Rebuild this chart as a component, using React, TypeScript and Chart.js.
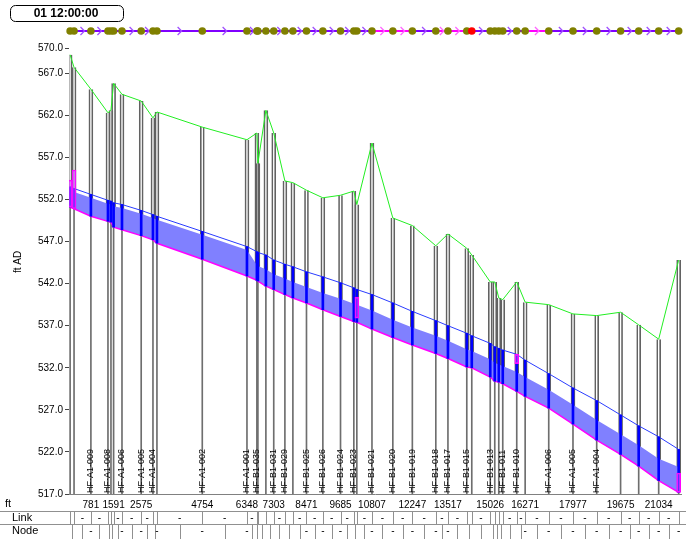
import React, { useEffect, useRef } from "react";
import { Chart, registerables } from "chart.js";
Chart.register(...registerables);

const FONT = "'Liberation Sans', Arial, sans-serif";

const timeLabel = "01 12:00:00";
const xTickValues = [781, 1591, 2575, 4754, 6348, 7303, 8471, 9685, 10807, 12247, 13517, 15026, 16271, 17977, 19675, 21034];
const yTickValues = [517, 522, 527, 532, 537, 542, 547, 552, 557, 562, 567, 570];
const X_MAX = 21830;
const Y_MIN = 517;
const Y_MAX = 570;

const nodeDist = [40, 180, 781, 1390, 1497, 1591, 1890, 2575, 2995, 3137, 4754, 6348, 6702, 6738, 7023, 7303, 7701, 7986, 8471, 9055, 9685, 10160, 10267, 10807, 11551, 12247, 13084, 13517, 14189, 14367, 15026, 15187, 15330, 15472, 15971, 16271, 17112, 17977, 18823, 19675, 20321, 21034, 21747];
const nodeGround = [569.2, 567.7, 565.1, 562.3, 562.6, 565.8, 564.5, 563.7, 561.7, 562.4, 560.6, 559.1, 559.9, 556.3, 562.6, 559.9, 554.2, 554.0, 553.1, 552.2, 552.5, 553.0, 551.4, 558.7, 549.8, 548.9, 546.5, 547.9, 546.2, 545.4, 542.2, 542.2, 540.3, 540.1, 542.2, 539.8, 539.5, 538.4, 538.2, 538.6, 537.1, 535.4, 544.8];
const nodeCrown = [553.5, 553.3, 552.6, 551.9, 551.8, 551.6, 551.4, 550.7, 550.2, 550.0, 548.2, 546.4, 545.8, 545.7, 545.4, 544.8, 544.3, 544.0, 543.4, 542.8, 542.1, 541.5, 541.3, 540.7, 539.7, 538.7, 537.6, 537.0, 536.1, 535.8, 534.9, 534.5, 534.3, 534.1, 533.6, 532.9, 531.3, 529.6, 528.1, 526.4, 525.1, 523.8, 522.3];
const nodeInvert = [551.1, 550.9, 550.0, 549.4, 549.3, 548.7, 548.4, 547.7, 547.2, 546.8, 544.9, 542.9, 542.4, 542.3, 541.7, 541.3, 540.7, 540.3, 539.7, 538.9, 538.1, 537.5, 537.4, 536.6, 535.6, 534.7, 533.7, 533.1, 532.1, 532.0, 530.9, 530.4, 530.3, 530.1, 529.2, 528.6, 527.2, 525.3, 523.4, 521.7, 520.3, 518.6, 517.2];
const nodeWater = [553.1, 552.9, 552.2, 551.5, 551.4, 551.2, 551.0, 550.3, 549.8, 549.6, 547.8, 546.0, 544.2, 544.1, 543.7, 543.1, 542.6, 542.2, 541.6, 540.9, 540.2, 539.6, 539.5, 538.8, 537.7, 536.8, 535.8, 535.2, 534.2, 534.0, 533.0, 532.6, 532.4, 532.2, 531.5, 530.9, 529.4, 527.6, 525.8, 524.1, 522.8, 521.2, 520.2];
const nodeNames = ["", "", "HF-A1-009", "HF-A1-008", "", "", "HF-A1-006", "HF-A1-005", "HF-A1-004", "", "HF-A1-002", "HF-A1-001", "HF-B1-035", "", "", "HF-B1-031", "HF-B1-029", "", "HF-B1-025", "HF-B1-026", "HF-B1-024", "HF-B1-023", "", "HF-B1-021", "HF-B1-020", "HF-B1-019", "HF-B1-018", "HF-B1-017", "HF-B1-015", "", "HF-B1-013", "", "", "HF-B1-011", "HF-B1-010", "", "HF-A1-006", "HF-A1-005", "HF-A1-004", "", "", "", ""];
// link colour code on the top strip: p = purple, m = magenta
const linkColor = ["p", "p", "p", "p", "p", "p", "p", "p", "p", "p", "p", "p", "p", "p", "p", "p", "p", "p", "p", "p", "p", "p", "p", "m", "m", "p", "m", "m", "p", "p", "p", "p", "p", "p", "p", "m", "p", "p", "p", "p", "p", "p"];
const redNode = 29;
const floodNode = [0, 1, 22, 34, 42];
const floodLo = [551.1, 550.9, 537.9, 532.5, 517.2];
const floodHi = [554.3, 555.5, 540.4, 533.6, 519.5];

const extras = {
  id: "profileExtras",
  afterDatasetsDraw(chart: any) {
    const ctx = chart.ctx;
    const xs = chart.scales.x;
    ctx.save();
    ctx.fillStyle = "#000";
    ctx.font = `9px ${FONT}`;
    ctx.textAlign = "left";
    ctx.textBaseline = "middle";
    nodeNames.forEach((nm, i) => {
      if (!nm) return;
      const x = xs.getPixelForValue(nodeDist[i]);
      ctx.save();
      ctx.translate(x, 493);
      ctx.rotate(-Math.PI / 2);
      ctx.fillText(nm, 0, 0);
      ctx.restore();
    });
    ctx.restore();
  },
  afterDraw(chart: any) {
    const ctx = chart.ctx;
    const xs = chart.scales.x;
    const px = nodeDist.map((d) => xs.getPixelForValue(d));
    const n = px.length;
    const W = chart.width;
    const H = chart.height;
    ctx.save();
    const line = (x1: number, y1: number, x2: number, y2: number) => {
      ctx.beginPath();
      ctx.moveTo(x1, y1);
      ctx.lineTo(x2, y2);
      ctx.stroke();
    };
    // table
    ctx.strokeStyle = "#909090";
    ctx.lineWidth = 1;
    line(0, 511.5, W, 511.5);
    line(0, 524.5, W, 524.5);
    px.forEach((x) => line(Math.round(x) + 0.5, 512, Math.round(x) + 0.5, 524));
    const mids: number[] = [];
    for (let i = 0; i < n - 1; i++) mids.push((px[i] + px[i + 1]) / 2);
    mids.forEach((m) => line(Math.round(m) + 0.5, 525, Math.round(m) + 0.5, H));
    ctx.fillStyle = "#000";
    ctx.font = `10px ${FONT}`;
    ctx.textAlign = "center";
    ctx.textBaseline = "middle";
    for (let i = 0; i < n - 1; i++) {
      if (px[i + 1] - px[i] >= 8) ctx.fillText("-", mids[i], 518);
    }
    for (let i = 0; i < n; i++) {
      const l = i === 0 ? px[0] - 6 : mids[i - 1];
      const r = i === n - 1 ? W : mids[i];
      if (r - l >= 12) ctx.fillText("-", px[i], 531);
    }
    ctx.textAlign = "left";
    ctx.font = `11px ${FONT}`;
    ctx.fillText("ft", 5, 504);
    ctx.fillText("Link", 12, 518);
    ctx.fillText("Node", 12, 531);
    // y title
    ctx.save();
    ctx.translate(18, 262);
    ctx.rotate(-Math.PI / 2);
    ctx.textAlign = "center";
    ctx.font = `10px ${FONT}`;
    ctx.fillText("ft AD", 0, 0);
    ctx.restore();
    // top strip
    const ty = 31;
    for (let i = 0; i < n - 1; i++) {
      ctx.strokeStyle = linkColor[i] === "m" ? "#ff00ff" : "#8000ff";
      ctx.lineWidth = 2;
      line(px[i], ty, px[i + 1], ty);
    }
    for (let i = 0; i < n - 1; i++) {
      if (px[i + 1] - px[i] < 9) continue;
      const m = (px[i] + px[i + 1]) / 2;
      ctx.strokeStyle = linkColor[i] === "m" ? "#ff66ff" : "#a050ff";
      ctx.lineWidth = 1.3;
      ctx.beginPath();
      ctx.moveTo(m - 2, ty - 4);
      ctx.lineTo(m + 2, ty);
      ctx.lineTo(m - 2, ty + 4);
      ctx.stroke();
    }
    px.forEach((x, i) => {
      ctx.fillStyle = i === redNode ? "#ff0000" : "#808000";
      ctx.beginPath();
      ctx.arc(x, ty, 3.8, 0, Math.PI * 2);
      ctx.fill();
    });
    // time box
    ctx.strokeStyle = "#000";
    ctx.lineWidth = 1;
    ctx.beginPath();
    (ctx as any).roundRect(10.5, 5.5, 113, 16, 5);
    ctx.stroke();
    ctx.fillStyle = "#000";
    ctx.font = `bold 12px ${FONT}`;
    ctx.textAlign = "center";
    ctx.textBaseline = "middle";
    ctx.fillText(timeLabel, 66, 14);
    ctx.restore();
  },
};

export default function App() {
  const ref = useRef<HTMLCanvasElement>(null);
  useEffect(() => {
    const canvas = ref.current!;
    const pts = (vals: number[]) => nodeDist.map((d, i) => ({ x: d, y: vals[i] }));
    const rng = (lo: number[] | number, hi: number[]) =>
      nodeDist.map((d, i) => ({ x: d, y: [typeof lo === "number" ? lo : lo[i], hi[i]] }));
    const barBase = { type: "bar", grouped: false, borderSkipped: false };
    const chart = new Chart(canvas, {
      type: "bar",
      data: {
        datasets: [
          {
            ...barBase,
            data: rng(nodeInvert, nodeGround),
            barThickness: 4,
            borderWidth: { left: 1, right: 1, top: 0, bottom: 0 },
            borderColor: "#626262",
            backgroundColor: "rgba(0,0,0,0)",
            order: 10,
          },
          {
            ...barBase,
            data: rng(Y_MIN, nodeInvert),
            barThickness: 1,
            borderWidth: 0,
            backgroundColor: "#6e6e6e",
            order: 9,
          },
          {
            type: "line",
            data: pts(nodeWater),
            borderWidth: 0,
            pointRadius: 0,
            backgroundColor: "#8080ff",
            fill: "+1",
            order: 8,
          },
          {
            type: "line",
            data: pts(nodeInvert),
            borderColor: "#ff00ff",
            borderWidth: 1.5,
            pointRadius: 0,
            fill: false,
            order: 7,
          },
          {
            type: "line",
            data: pts(nodeCrown),
            borderColor: "#2a3cff",
            borderWidth: 1,
            pointRadius: 0,
            fill: false,
            order: 6,
          },
          {
            ...barBase,
            data: rng(nodeInvert, nodeCrown),
            barThickness: 2,
            borderWidth: 0,
            backgroundColor: "#0000ff",
            order: 5,
          },
          {
            ...barBase,
            data: floodNode.map((k, j) => ({ x: nodeDist[k], y: [floodLo[j], floodHi[j]] })),
            barThickness: 4,
            borderWidth: 1,
            borderColor: "#ff00ff",
            backgroundColor: "rgba(200,80,255,0.5)",
            order: 4,
          },
          {
            type: "line",
            data: pts(nodeGround),
            borderColor: "#22ee22",
            borderWidth: 1,
            pointRadius: 0,
            fill: false,
            order: 3,
          },
        ] as any,
      },
      options: {
        responsive: false,
        animation: false,
        devicePixelRatio: 1,
        layout: { padding: { top: 48, right: 5, left: 0, bottom: 0 } },
        plugins: {
          legend: { display: false },
          tooltip: { enabled: false },
          title: { display: false },
        },
        scales: {
          x: {
            type: "linear",
            min: 0,
            max: X_MAX,
            offset: false,
            grid: { display: false, drawTicks: false, offset: false },
            border: { display: true, color: "#808080" },
            ticks: {
              font: { family: FONT, size: 10 },
              color: "#000",
              padding: 5,
              autoSkip: false,
              maxRotation: 0,
              callback: (v: any) => String(v),
            },
            afterBuildTicks: (s: any) => {
              s.ticks = xTickValues.map((v) => ({ value: v }));
            },
            afterFit: (s: any) => {
              s.height = 45;
            },
          },
          y: {
            type: "linear",
            min: Y_MIN,
            max: Y_MAX,
            grid: { drawOnChartArea: false, drawTicks: true, tickLength: 4, color: "#444" },
            border: { display: false },
            ticks: {
              font: { family: FONT, size: 10 },
              color: "#000",
              padding: 2,
              autoSkip: false,
              callback: (v: any) => Number(v).toFixed(1),
            },
            afterBuildTicks: (s: any) => {
              s.ticks = yTickValues.map((v) => ({ value: v }));
            },
            afterFit: (s: any) => {
              s.width = 69;
            },
          },
        },
      } as any,
      plugins: [extras],
    });
    return () => chart.destroy();
  }, []);
  return (
    <div style={{ position: "fixed", left: 0, top: 0, width: 686, height: 539, background: "#fff" }}>
      <canvas ref={ref} width={686} height={539} style={{ display: "block" }} />
    </div>
  );
}
